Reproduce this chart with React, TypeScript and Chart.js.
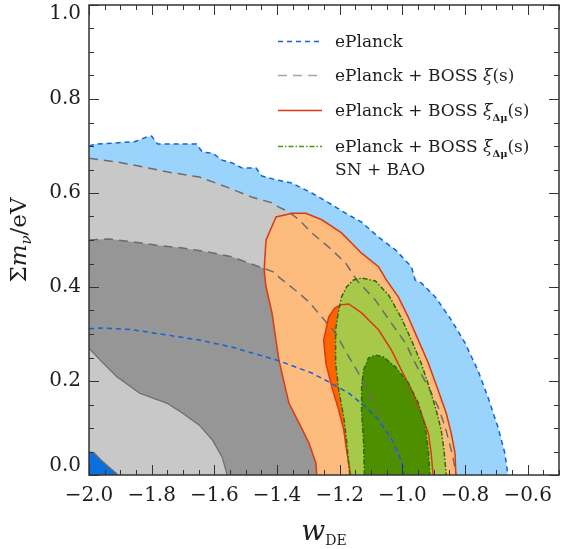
import React, { useEffect, useRef } from 'react';
import { Chart, registerables } from 'chart.js';
Chart.register(...registerables);

type P = [number, number];

const xTickValues = [-2.0, -1.8, -1.6, -1.4, -1.2, -1.0, -0.8, -0.6];
const yTickValues = [0.0, 0.2, 0.4, 0.6, 0.8, 1.0];
const minorStep = 0.05;
const xRange: P = [-2.0, -0.5];
const yRange: P = [0.0, 1.0];

// ePlanck 95% contour (light blue)
const ePlanck2: P[] = [
  [-2.0, 0.700], [-1.981, 0.704], [-1.854, 0.709], [-1.816, 0.719], [-1.800, 0.721], [-1.781, 0.704],
  [-1.657, 0.704], [-1.638, 0.687], [-1.606, 0.685], [-1.575, 0.670], [-1.543, 0.664], [-1.511, 0.653],
  [-1.467, 0.653], [-1.448, 0.636], [-1.403, 0.628], [-1.352, 0.621], [-1.289, 0.600], [-1.235, 0.579],
  [-1.181, 0.557], [-1.130, 0.538], [-1.076, 0.506], [-1.022, 0.479], [-0.971, 0.443], [-0.959, 0.415],
  [-0.940, 0.409], [-0.895, 0.379], [-0.844, 0.330], [-0.800, 0.281], [-0.759, 0.223], [-0.727, 0.166],
  [-0.695, 0.102], [-0.673, 0.047], [-0.663, 0.0],
];
// ePlanck 68% contour
const ePlanck1: P[] = [
  [-2.0, 0.311], [-1.956, 0.313], [-1.860, 0.309], [-1.752, 0.298], [-1.648, 0.287], [-1.543, 0.272],
  [-1.435, 0.251], [-1.394, 0.243], [-1.289, 0.217], [-1.235, 0.198], [-1.171, 0.174], [-1.117, 0.145],
  [-1.076, 0.117], [-1.038, 0.081], [-1.013, 0.047], [-0.997, 0.015], [-0.994, 0.0],
];
// ePlanck + BOSS xi(s) 95%
const bossXi2Outer: P[] = [
  [-2.0, 0.674], [-1.911, 0.666], [-1.838, 0.657], [-1.752, 0.645], [-1.648, 0.634], [-1.562, 0.613],
  [-1.479, 0.591], [-1.416, 0.579], [-1.394, 0.570], [-1.362, 0.560], [-1.330, 0.543], [-1.289, 0.515],
  [-1.235, 0.485], [-1.181, 0.451], [-1.146, 0.415], [-1.086, 0.372], [-1.035, 0.323], [-0.990, 0.281],
  [-0.959, 0.238], [-0.917, 0.187], [-0.886, 0.145], [-0.863, 0.102], [-0.844, 0.053], [-0.832, 0.017],
  [-0.829, 0.0],
];
const bossXi2Corner: P[] = [
  [-1.908, 0.0], [-1.914, 0.004], [-1.937, 0.017], [-1.962, 0.032], [-1.984, 0.047], [-2.0, 0.049],
];
// ePlanck + BOSS xi(s) 68%
const bossXi1Top: P[] = [
  [-2.0, 0.500], [-1.933, 0.502], [-1.860, 0.496], [-1.784, 0.489], [-1.702, 0.483], [-1.616, 0.474],
  [-1.543, 0.464], [-1.457, 0.443], [-1.403, 0.430], [-1.394, 0.421], [-1.330, 0.387], [-1.298, 0.368],
  [-1.257, 0.336], [-1.213, 0.302], [-1.178, 0.260], [-1.140, 0.217], [-1.108, 0.174], [-1.076, 0.132],
  [-1.044, 0.081], [-1.013, 0.038], [-0.997, 0.011], [-0.994, 0.0],
];
const bossXi1Lower: P[] = [
  [-1.559, 0.0], [-1.575, 0.038], [-1.606, 0.074], [-1.648, 0.106], [-1.702, 0.132], [-1.752, 0.153],
  [-1.838, 0.174], [-1.911, 0.209], [-1.965, 0.245], [-2.0, 0.270],
];
// ePlanck + BOSS xi_dmu(s)
const dmu2: P[] = [
  [-1.273, 0.0], [-1.276, 0.026], [-1.298, 0.068], [-1.330, 0.111], [-1.362, 0.153], [-1.394, 0.245],
  [-1.416, 0.345], [-1.435, 0.400], [-1.441, 0.436], [-1.435, 0.500], [-1.403, 0.549], [-1.352, 0.557],
  [-1.308, 0.557], [-1.257, 0.543], [-1.194, 0.515], [-1.130, 0.472], [-1.076, 0.443], [-1.051, 0.415],
  [-1.013, 0.379], [-0.981, 0.336], [-0.949, 0.287], [-0.917, 0.238], [-0.886, 0.181], [-0.860, 0.132],
  [-0.844, 0.089], [-0.832, 0.047], [-0.829, 0.0],
];
const dmu1: P[] = [
  [-1.165, 0.0], [-1.178, 0.053], [-1.187, 0.096], [-1.203, 0.138], [-1.225, 0.187], [-1.244, 0.238],
  [-1.251, 0.287], [-1.235, 0.336], [-1.216, 0.355], [-1.197, 0.362], [-1.171, 0.364], [-1.130, 0.345],
  [-1.076, 0.309], [-1.035, 0.266], [-1.003, 0.223], [-0.971, 0.181], [-0.940, 0.132], [-0.917, 0.089],
  [-0.908, 0.047], [-0.902, 0.0],
];
// ePlanck + BOSS xi_dmu(s) + SN + BAO
const snbao2: P[] = [
  [-1.168, 0.0], [-1.178, 0.074], [-1.187, 0.123], [-1.203, 0.181], [-1.213, 0.238], [-1.213, 0.309],
  [-1.203, 0.351], [-1.194, 0.379], [-1.178, 0.400], [-1.156, 0.415], [-1.130, 0.419], [-1.086, 0.413],
  [-1.044, 0.383], [-1.003, 0.334], [-0.971, 0.287], [-0.940, 0.238], [-0.914, 0.187], [-0.892, 0.138],
  [-0.876, 0.096], [-0.867, 0.053], [-0.860, 0.0],
];
const snbao1: P[] = [
  [-1.121, 0.0], [-1.124, 0.074], [-1.130, 0.132], [-1.130, 0.187], [-1.124, 0.223], [-1.108, 0.249],
  [-1.086, 0.255], [-1.060, 0.251], [-1.022, 0.230], [-0.981, 0.196], [-0.949, 0.153], [-0.927, 0.102],
  [-0.917, 0.053], [-0.912, 0.0],
];

const SERIF = '"DejaVu Serif", "Liberation Serif", serif';
const TEXT = '#1e1e1e';

const C = {
  lightBlue: '#9ad4fc', darkBlue: '#0a6fdf',
  lightGray: '#c8c8c8', darkGray: '#969696',
  lightOrange: '#fdbb7e', darkOrange: '#fd6500',
  lightGreen: '#a7c94a', darkGreen: '#4e8f00',
  lineBlue: '#1262d8', lineGray: '#6c6c6c', lineRed: '#d93a14', lineGreen: '#2d6b00',
  legendGray: '#a6a6a6', legendGreen: '#4a9a10',
};
const DASH_BLUE = [5, 4];
const DASH_GRAY = [9, 6];
const DASH_GREEN = [5, 2, 1.5, 2];

const OUT_L = -2.3;
const OUT_B = -0.2;

function closeBottom(pts: P[]): P[] {
  return [...pts, [pts[pts.length - 1][0], OUT_B], [pts[0][0], OUT_B]];
}
function closeLeftBottom(upper: P[], lower: P[] = []): P[] {
  const last = upper[upper.length - 1];
  const out: P[] = [...upper, [last[0], OUT_B]];
  if (lower.length) {
    out.push([lower[0][0], OUT_B], ...lower, [OUT_L, lower[lower.length - 1][1]]);
  } else {
    out.push([OUT_L, OUT_B]);
  }
  out.push([OUT_L, upper[0][1]]);
  return out;
}
const toXY = (pts: P[]) => pts.map(([x, y]) => ({ x, y }));

function fillSet(pts: P[], color: string) {
  return {
    data: toXY(pts), showLine: true, fill: 'shape', backgroundColor: color,
    borderColor: 'rgba(0,0,0,0)', borderWidth: 0, pointRadius: 0, tension: 0,
  };
}
function lineSet(pts: P[], color: string, dash: number[] = [], width = 1.5) {
  return {
    data: toXY(pts), showLine: true, fill: false, borderColor: color, borderWidth: width,
    borderDash: dash, pointRadius: 0, tension: 0, backgroundColor: 'rgba(0,0,0,0)',
  };
}

type Part = { t: string; font: string; dy?: number };
function drawParts(ctx: CanvasRenderingContext2D, x: number, y: number, parts: Part[], center = false) {
  let w = 0;
  for (const p of parts) { ctx.font = p.font; w += ctx.measureText(p.t).width; }
  let cx = center ? x - w / 2 : x;
  for (const p of parts) {
    ctx.font = p.font;
    ctx.fillText(p.t, cx, y + (p.dy || 0));
    cx += ctx.measureText(p.t).width;
  }
}

const LF = `17px ${SERIF}`;
const LFI = `italic 17px ${SERIF}`;
const LFS = `bold 10px ${SERIF}`;
const legendItems: { color: string; dash: number[]; y: number; parts: Part[][] }[] = [
  { color: C.lineBlue, dash: DASH_BLUE, y: 41, parts: [[{ t: 'ePlanck', font: LF }]] },
  {
    color: C.legendGray, dash: DASH_GRAY, y: 75,
    parts: [[{ t: 'ePlanck + BOSS ', font: LF }, { t: 'ξ', font: LFI }, { t: '(s)', font: LF }]],
  },
  {
    color: C.lineRed, dash: [], y: 110,
    parts: [[{ t: 'ePlanck + BOSS ', font: LF }, { t: 'ξ', font: LFI }, { t: 'Δμ', font: LFS, dy: 5 }, { t: '(s)', font: LF }]],
  },
  {
    color: C.legendGreen, dash: DASH_GREEN, y: 146,
    parts: [
      [{ t: 'ePlanck + BOSS ', font: LF }, { t: 'ξ', font: LFI }, { t: 'Δμ', font: LFS, dy: 5 }, { t: '(s)', font: LF }],
      [{ t: 'SN + BAO', font: LF }],
    ],
  },
];

const decorPlugin = {
  id: 'decor',
  afterDatasetsDraw(chart: any) {
    const { ctx, chartArea: a, scales } = chart;
    const xs = scales.x, ys = scales.y;
    ctx.save();
    ctx.strokeStyle = '#333';
    ctx.lineWidth = 1;
    ctx.setLineDash([]);
    const nx = Math.round((xRange[1] - xRange[0]) / minorStep);
    for (let i = 0; i <= nx; i++) {
      const v = xRange[0] + i * minorStep;
      const major = xTickValues.some((t) => Math.abs(t - v) < 1e-6);
      const len = major ? 10 : 5;
      const px = Math.round(xs.getPixelForValue(v)) + 0.5;
      ctx.beginPath();
      ctx.moveTo(px, a.bottom); ctx.lineTo(px, a.bottom - len);
      ctx.moveTo(px, a.top); ctx.lineTo(px, a.top + len);
      ctx.stroke();
    }
    const ny = Math.round((yRange[1] - yRange[0]) / minorStep);
    for (let i = 0; i <= ny; i++) {
      const v = yRange[0] + i * minorStep;
      const major = yTickValues.some((t) => Math.abs(t - v) < 1e-6);
      const len = major ? 10 : 5;
      const py = Math.round(ys.getPixelForValue(v)) + 0.5;
      ctx.beginPath();
      ctx.moveTo(a.left, py); ctx.lineTo(a.left + len, py);
      ctx.moveTo(a.right, py); ctx.lineTo(a.right - len, py);
      ctx.stroke();
    }
    ctx.lineWidth = 1.5;
    ctx.strokeRect(a.left, a.top, a.right - a.left, a.bottom - a.top);
    ctx.restore();
  },
  afterDraw(chart: any) {
    const { ctx, chartArea: a } = chart;
    ctx.save();
    ctx.fillStyle = TEXT;
    ctx.textBaseline = 'alphabetic';
    // legend
    const lx0 = 278, lx1 = 322, tx = 335;
    for (const item of legendItems) {
      ctx.save();
      ctx.strokeStyle = item.color;
      ctx.lineWidth = 1.5;
      ctx.setLineDash(item.dash);
      ctx.beginPath();
      ctx.moveTo(lx0, item.y + 0.5);
      ctx.lineTo(lx1, item.y + 0.5);
      ctx.stroke();
      ctx.restore();
      item.parts.forEach((line, k) => drawParts(ctx, tx, item.y + 6 + k * 23, line));
    }
    // x title
    drawParts(ctx, (a.left + a.right) / 2, 540, [
      { t: 'w', font: `italic 28px ${SERIF}` },
      { t: 'DE', font: `14px ${SERIF}`, dy: 5 },
    ], true);
    // y title
    ctx.save();
    ctx.translate(18, (a.top + a.bottom) / 2);
    ctx.rotate(-Math.PI / 2);
    drawParts(ctx, 0, 8, [
      { t: 'Σ', font: `23px ${SERIF}` },
      { t: 'm', font: `italic 23px ${SERIF}` },
      { t: 'ν', font: `italic 15px ${SERIF}`, dy: 5 },
      { t: '/eV', font: `23px ${SERIF}` },
    ], true);
    ctx.restore();
    ctx.restore();
  },
};

export default function App() {
  const ref = useRef<HTMLCanvasElement | null>(null);
  useEffect(() => {
    if (!ref.current) return;
    const layers = [
      fillSet(closeLeftBottom(ePlanck2), C.lightBlue),
      fillSet(closeLeftBottom(ePlanck1), C.darkBlue),
      fillSet(closeLeftBottom(bossXi2Outer, bossXi2Corner), C.lightGray),
      fillSet(closeLeftBottom(bossXi1Top, bossXi1Lower), C.darkGray),
      fillSet(closeBottom(dmu2), C.lightOrange),
      fillSet(closeBottom(dmu1), C.darkOrange),
      fillSet(closeBottom(snbao2), C.lightGreen),
      fillSet(closeBottom(snbao1), C.darkGreen),
      lineSet(ePlanck2, C.lineBlue, DASH_BLUE),
      lineSet(bossXi2Outer, C.lineGray, DASH_GRAY),
      lineSet(bossXi2Corner, C.lineGray, []),
      lineSet(bossXi1Top, C.lineGray, DASH_GRAY),
      lineSet(bossXi1Lower, C.lineGray, [], 1.2),
      lineSet(dmu2, C.lineRed),
      lineSet(dmu1, C.lineRed),
      lineSet(snbao2, C.lineGreen, DASH_GREEN),
      lineSet(snbao1, C.lineGreen, DASH_GREEN),
      lineSet(ePlanck1, C.lineBlue, DASH_BLUE),
    ];
    const datasets = layers.map((d, i) => ({ ...d, order: layers.length - i }));
    const chart = new Chart(ref.current, {
      type: 'scatter',
      data: { datasets: datasets as any },
      plugins: [decorPlugin],
      options: {
        animation: false,
        responsive: false,
        events: [],
        layout: { padding: { top: 5, right: 2, left: 0, bottom: 0 } },
        plugins: { legend: { display: false }, tooltip: { enabled: false } },
        scales: {
          x: {
            type: 'linear', position: 'bottom', min: xRange[0], max: xRange[1],
            grid: { display: false, drawTicks: false }, border: { display: false },
            afterBuildTicks: (s: any) => { s.ticks = xTickValues.map((value) => ({ value })); },
            afterFit: (s: any) => { s.height = 74; s.paddingLeft = 0; s.paddingRight = 0; },
            ticks: {
              padding: 9, color: TEXT, maxRotation: 0, autoSkip: false,
              font: { family: SERIF, size: 20 },
              callback: (v: any) => { const n = Number(v); const s = Math.abs(n).toFixed(1); return n < 0 ? '\u2212' + s : s; },
            },
          },
          y: {
            type: 'linear', min: yRange[0], max: yRange[1],
            grid: { display: false, drawTicks: false }, border: { display: false },
            afterBuildTicks: (s: any) => { s.ticks = yTickValues.map((value) => ({ value })); },
            afterFit: (s: any) => { s.width = 89; s.paddingTop = 0; s.paddingBottom = 0; },
            ticks: {
              padding: 8, color: TEXT, autoSkip: false,
              font: { family: SERIF, size: 20, lineHeight: 0.9 },
              callback: (v: any) => {
                const n = Number(v); const s = n.toFixed(1);
                if (n >= yRange[1]) return ['', s];
                if (n <= yRange[0]) return [s, ''];
                return s;
              },
            },
          },
        },
      } as any,
    });
    return () => chart.destroy();
  }, []);
  return (
    <div style={{ position: 'fixed', left: 0, top: 0, width: 561, height: 549, background: '#fff' }}>
      <canvas ref={ref} width={561} height={549} style={{ display: 'block' }} />
    </div>
  );
}
